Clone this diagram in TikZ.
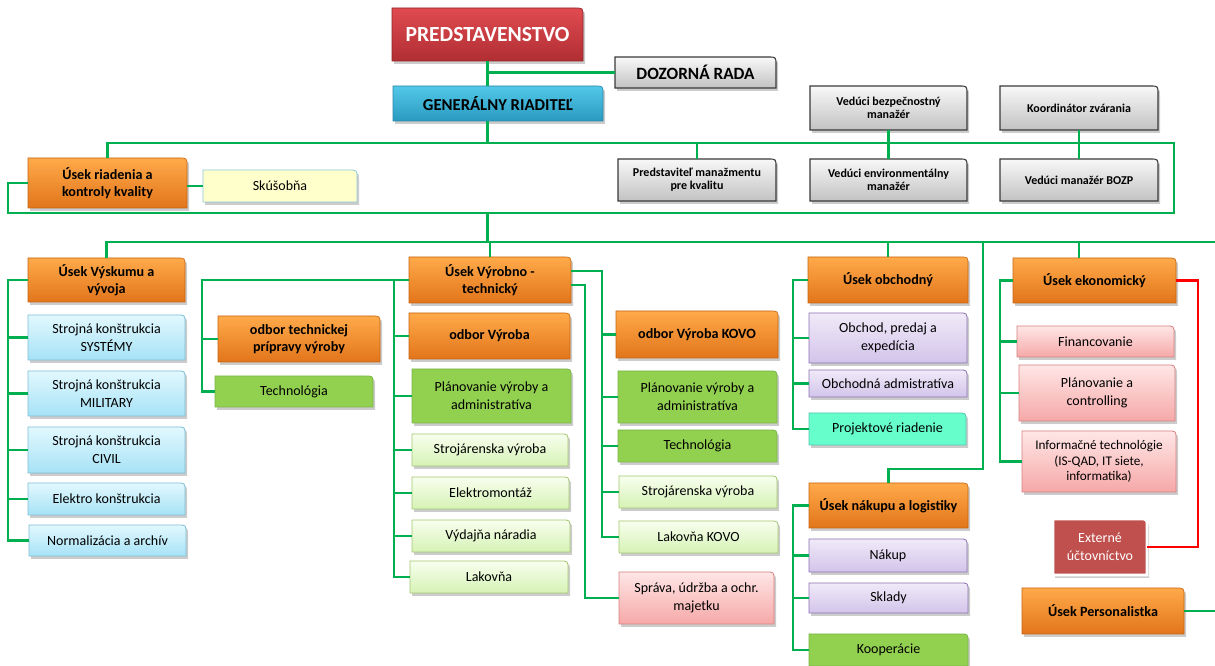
\documentclass[tikz,border=0pt]{standalone}
\usepackage{fontspec}
\setmainfont{Carlito}
\usetikzlibrary{calc}
\definecolor{gline}{HTML}{00B050}
\definecolor{rline}{HTML}{FF0000}
\definecolor{orT}{HTML}{FFAA4A}\definecolor{orB}{HTML}{E2751B}\definecolor{orD}{HTML}{C8650F}
\definecolor{rdT}{HTML}{E04B50}\definecolor{rdB}{HTML}{B02E33}\definecolor{rdD}{HTML}{8E2226}
\definecolor{blT}{HTML}{52C8E8}\definecolor{blB}{HTML}{2A9AC0}\definecolor{blD}{HTML}{2A86A8}
\definecolor{gyT}{HTML}{F8F8F8}\definecolor{gyB}{HTML}{C2C2C2}\definecolor{gyD}{HTML}{3A3A3A}
\definecolor{lbT}{HTML}{E2F8FE}\definecolor{lbB}{HTML}{A6E2F6}\definecolor{lbD}{HTML}{7DBFD8}
\definecolor{gn}{HTML}{92D050}\definecolor{gnD}{HTML}{7AB648}
\definecolor{lgT}{HTML}{F7FFEE}\definecolor{lgB}{HTML}{D6F2B5}\definecolor{lgD}{HTML}{A6C772}
\definecolor{puT}{HTML}{F0EAF8}\definecolor{puB}{HTML}{D2C4EA}\definecolor{puD}{HTML}{8C72B4}
\definecolor{pkT}{HTML}{FFE6E6}\definecolor{pkB}{HTML}{F6A8A8}\definecolor{pkD}{HTML}{D88080}
\definecolor{aq}{HTML}{66FFCC}\definecolor{aqD}{HTML}{55C4B0}
\definecolor{ye}{HTML}{FFFFCC}\definecolor{yeD}{HTML}{8CC9DC}
\definecolor{ex}{HTML}{C0504D}
\tikzset{
  gl/.style={draw=gline,line width=1.6pt},
  rl/.style={draw=rline,line width=1.6pt},
  reg/.style={font=\fontsize{10.5}{13.5}\selectfont},
  bxor/.style={top color=orT,bottom color=orB,draw=orD,line width=0.5pt},
  bxor text/.style={font=\fontsize{10.6}{13}\selectfont\bfseries},
  bxrd/.style={top color=rdT,bottom color=rdB,draw=rdD,line width=0.5pt},
  bxrd text/.style={text=white,font=\fontsize{16.2}{18}\selectfont\bfseries},
  bxbl/.style={top color=blT,bottom color=blB,draw=blD,line width=0.5pt},
  bxbl text/.style={font=\fontsize{12.5}{14}\selectfont\bfseries},
  bxgy/.style={top color=gyT,bottom color=gyB,draw=gyD,line width=0.8pt},
  bxgy text/.style={font=\fontsize{9}{10}\selectfont\bfseries},
  bxgb/.style={bxgy},
  bxgb text/.style={font=\fontsize{12.9}{14}\selectfont\bfseries},
  bxlb/.style={top color=lbT,bottom color=lbB,draw=lbD,line width=0.6pt},
  bxlb text/.style={reg},
  bxgn/.style={fill=gn,draw=gnD,line width=0.6pt},
  bxgn text/.style={reg},
  bxlg/.style={top color=lgT,bottom color=lgB,draw=lgD,line width=0.6pt},
  bxlg text/.style={reg},
  bxpu/.style={top color=puT,bottom color=puB,draw=puD,line width=0.6pt},
  bxpu text/.style={reg},
  bxpk/.style={top color=pkT,bottom color=pkB,draw=pkD,line width=0.6pt},
  bxpk text/.style={reg},
  bxit/.style={bxpk},
  bxit text/.style={font=\fontsize{9.9}{11.6}\selectfont},
  bxaq/.style={fill=aq,draw=aqD,line width=0.6pt},
  bxaq text/.style={reg},
  bxye/.style={fill=ye,draw=yeD,line width=0.6pt},
  bxye text/.style={reg},
  bxex/.style={fill=ex,draw=white,line width=2pt},
  bxex text/.style={text=white,reg},
}
% #1 name, #2 style, #3 x1, #4 y1, #5 x2, #6 y2, #7 text
\newcommand\ob[7]{%
  \fill[black,opacity=0.2] ({#3+2},{#6+3}) -- ({#3+2},{#4+3}) -- ({#5-5},{#4+3}) .. controls ({#5+2},{#4+3}) .. ({#5+2},{#4+10}) -- ({#5+2},{#6+3}) -- cycle;
  \path[#2] (#3,#6) -- (#3,#4) -- ({#5-8},#4) .. controls (#5,#4) .. (#5,{#4+8}) -- (#5,#6) -- cycle;
  \node[#2 text,minimum width={(#5-#3)*0.75pt},minimum height={(#6-#4)*0.75pt},inner sep=0pt,align=center] (#1) at ({(#3+#5)/2},{(#4+#6)/2}) {#7};
}
\begin{document}
\begin{tikzpicture}[x=0.75pt,y=-0.75pt]
\useasboundingbox[fill=white] (0,0) rectangle (1215,666);
% top
\ob{pred}{bxrd}{392}{8}{583}{61}{PREDSTAVENSTVO}
\ob{dozor}{bxgb}{615}{57}{776}{88}{DOZORNÁ RADA}
\ob{gr}{bxbl}{393}{86}{603}{121}{GENERÁLNY RIADITEĽ}
\ob{qual}{bxor}{28}{158}{187}{208}{Úsek riadenia a\\kontroly kvality}
\ob{skus}{bxye}{203}{170}{357}{202}{Skúšobňa}
\ob{pmk}{bxgy}{618}{159}{776}{201}{Predstaviteľ manažmentu\\pre kvalitu}
\ob{vem}{bxgy}{810}{159}{967}{201}{Vedúci environmentálny\\manažér}
\ob{bozp}{bxgy}{1000}{159}{1158}{201}{Vedúci manažér BOZP}
\ob{vbm}{bxgy}{810}{86}{967}{130}{Vedúci bezpečnostný\\manažér}
\ob{koord}{bxgy}{1000}{86}{1158}{130}{Koordinátor zvárania}
% research
\ob{vyv}{bxor}{28}{258}{185}{302}{Úsek Výskumu a\\vývoja}
\ob{sys}{bxlb}{28}{315}{185}{360}{Strojná konštrukcia\\SYSTÉMY}
\ob{mil}{bxlb}{28}{371}{185}{416}{Strojná konštrukcia\\MILITARY}
\ob{civ}{bxlb}{28}{427}{185}{473}{Strojná konštrukcia\\CIVIL}
\ob{elk}{bxlb}{28}{483}{185}{515}{Elektro konštrukcia}
\ob{norm}{bxlb}{29}{525}{186}{556}{Normalizácia a archív}
% technical preparation
\ob{otp}{bxor}{218}{316}{380}{362}{odbor technickej\\prípravy výroby}
\ob{tech1}{bxgn}{215}{376}{373}{407}{Technológia}
% production
\ob{vt}{bxor}{409}{257}{571}{303}{Úsek Výrobno -\\technický}
\ob{ovy}{bxor}{409}{313}{570}{359}{odbor Výroba}
\ob{plan1}{bxgn}{412}{369}{571}{423}{Plánovanie výroby a\\administratíva}
\ob{stroj1}{bxlg}{412}{434}{568}{466}{Strojárenska výroba}
\ob{elmo}{bxlg}{412}{477}{569}{509}{Elektromontáž}
\ob{vyd}{bxlg}{412}{520}{570}{552}{Výdajňa náradia}
\ob{lak}{bxlg}{410}{561}{568}{593}{Lakovňa}
% KOVO
\ob{kovo}{bxor}{616}{311}{778}{358}{odbor Výroba KOVO}
\ob{plan2}{bxgn}{618}{371}{777}{423}{Plánovanie výroby a\\administratíva}
\ob{tech2}{bxgn}{618}{430}{777}{462}{Technológia}
\ob{stroj2}{bxlg}{619}{476}{777}{508}{Strojárenska výroba}
\ob{lak2}{bxlg}{619}{521}{778}{553}{Lakovňa KOVO}
\ob{sprava}{bxpk}{619}{572}{774}{624}{Správa, údržba a ochr.\\majetku}
% commercial
\ob{obch}{bxor}{808}{257}{968}{303}{Úsek obchodný}
\ob{opx}{bxpu}{809}{313}{967}{363}{Obchod, predaj a\\expedícia}
\ob{oadm}{bxpu}{809}{370}{967}{397}{Obchodná admistratíva}
\ob{proj}{bxaq}{809}{413}{966}{445}{Projektové riadenie}
% economic
\ob{ekon}{bxor}{1013}{258}{1176}{303}{Úsek ekonomický}
\ob{fin}{bxpk}{1017}{326}{1174}{357}{Financovanie}
\ob{pc}{bxpk}{1019}{365}{1175}{421}{Plánovanie a\\controlling}
\ob{it}{bxit}{1022}{431}{1176}{492}{Informačné technológie\\(IS-QAD, IT siete,\\informatika)}
\ob{ext}{bxex}{1053}{519}{1147}{575}{Externé\\účtovníctvo}
% purchasing
\ob{nak}{bxor}{809}{483}{968}{528}{Úsek nákupu a logistiky}
\ob{nakup}{bxpu}{809}{539}{967}{572}{Nákup}
\ob{skl}{bxpu}{809}{583}{968}{613}{Sklady}
\ob{koop}{bxgn}{809}{634}{968}{666}{Kooperácie}
\ob{pers}{bxor}{1022}{588}{1184}{634}{Úsek Personalistka}
% ---- connectors
\coordinate (b1L) at (107,143);
\coordinate (b1R) at (1174,143);
\coordinate (b2R) at (1174,213);
\coordinate (b2L) at (8,213);
\coordinate (b3L) at (107,242);
\coordinate (b3R) at (1215,242);
\draw[gl] (pred.south) -- (pred.south |- gr.north);
\draw[gl] (pred.south |- dozor.west) -- (dozor.west);
\draw[gl] (pred.south |- gr.south) -- (pred.south |- b1L);
\draw[gl] (qual.north) -- (qual.north |- b1L) -- (b1R) -- (b2R) -- (b2L) -- (b2L |- qual.west) -- (qual.west);
\draw[gl] (pmk.north) -- (pmk.north |- b1L);
\draw[gl] (vbm.south) -- (vem.north);
\draw[gl] (koord.south) -- (bozp.north);
\draw[gl] (skus.west) -- (skus.west -| qual.east);
\draw[gl] (pred.south |- b2L) -- (pred.south |- b3L);
\draw[gl] (vyv.north) -- (vyv.north |- b3L) -- (b3R);
\draw[gl] (vt.north) -- (vt.north |- b3L);
\draw[gl] (obch.north) -- (obch.north |- b3L);
\coordinate (ek) at (1079,242);
\draw[gl] (ek) -- (ek |- ekon.north);
\coordinate (nk1) at (983,242);
\coordinate (nk2) at (983,469);
\draw[gl] (nk1) -- (nk2) -- (nk2 -| nak.north) -- (nak.north);
% research bus
\coordinate (vx) at (8,0);
\draw[gl] (vyv.west) -- (vyv.west -| vx) -- (norm.west -| vx) -- (norm.west);
\foreach \n in {sys,mil,civ,elk} \draw[gl] (\n.west) -- (\n.west -| vx);
% technical preparation bus
\coordinate (ox) at (202,0);
\draw[gl] (tech1.west) -- (tech1.west -| ox) -- (ox |- vt.west) -- (vt.west);
\draw[gl] (otp.west) -- (otp.west -| ox);
% production bus
\coordinate (oy) at (394,0);
\draw[gl] (lak.west) -- (lak.west -| oy) -- (oy |- vt.west);
\foreach \n in {ovy,plan1,stroj1,elmo,vyd} \draw[gl] (\n.west) -- (\n.west -| oy);
% KOVO bus
\coordinate (vtr1) at ($(vt.east)+(0,-9)$);
\coordinate (vtr2) at ($(vt.east)+(0,5)$);
\coordinate (kx) at (602,0);
\draw[gl] (vtr1) -- (vtr1 -| kx) -- (lak2.west -| kx) -- (lak2.west);
\foreach \n in {kovo,plan2,tech2,stroj2} \draw[gl] (\n.west) -- (\n.west -| kx);
\coordinate (sx) at (585,0);
\draw[gl] (vtr2) -- (vtr2 -| sx) -- (sprava.west -| sx) -- (sprava.west);
% commercial bus
\coordinate (cx) at (793,0);
\draw[gl] (obch.west) -- (obch.west -| cx) -- (proj.west -| cx) -- (proj.west);
\foreach \n in {opx,oadm} \draw[gl] (\n.west) -- (\n.west -| cx);
% economic bus
\coordinate (ex) at (1000,0);
\draw[gl] (ekon.west) -- (ekon.west -| ex) -- (it.west -| ex) -- (it.west);
\foreach \n in {fin,pc} \draw[gl] (\n.west) -- (\n.west -| ex);
% purchasing bus
\draw[gl] (nak.west) -- (nak.west -| cx) -- (koop.west -| cx) -- (koop.west);
\foreach \n in {nakup,skl} \draw[gl] (\n.west) -- (\n.west -| cx);
% personnel
\coordinate (pe) at (1215,0);
\draw[gl] (pers.east) -- (pers.east -| pe);
% red
\coordinate (rx) at (1198,0);
\draw[rl] (ekon.east) -- (ekon.east -| rx) -- (rx |- ext.east) -- (ext.east);
\end{tikzpicture}
\end{document}
